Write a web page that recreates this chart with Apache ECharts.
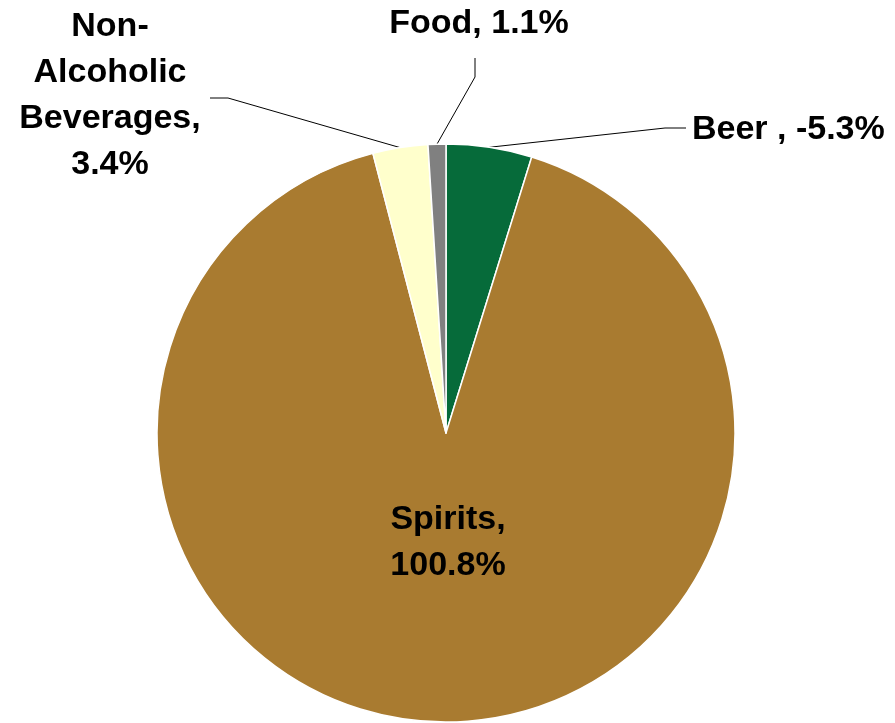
<!DOCTYPE html>
<html>
<head>
<meta charset="utf-8">
<script src="https://cdn.jsdelivr.net/npm/echarts@6/dist/echarts.min.js"></script>
<style>
html,body{margin:0;padding:0;background:#fff;}
#chart{width:895px;height:723px;}
</style>
</head>
<body>
<div id="chart"></div>
<script>
// Data
var categories = ['Beer ', 'Spirits', 'Non-Alcoholic Beverages', 'Food'];
var values = [-5.3, 100.8, 3.4, 1.1];
var labelTexts = ['Beer , -5.3%', 'Spirits,\n100.8%', 'Non-\nAlcoholic\nBeverages,\n3.4%', 'Food, 1.1%'];

// Styles / layout
var colors = ['#066B3A', '#A97B30', '#FFFFCC', '#808080'];
var labelPlacement = [
  {x: 692, y: 130, align: 'left', elbow: [665, 128], end: [686, 128]},
  {x: 448, y: 543, align: 'center'},
  {x: 110, y: 96, align: 'center', elbow: [228, 98], end: [210, 98]},
  {x: 479, y: 24, align: 'center', elbow: [475, 77], end: [475, 58]}
];

var chart = echarts.init(document.getElementById('chart'));
var data = categories.map(function (c, i) {
  var inside = i === 1;
  return {
    name: c,
    value: Math.abs(values[i]),
    itemStyle: {color: colors[i]},
    label: {
      position: inside ? 'inside' : 'outside',
      formatter: labelTexts[i]
    },
    labelLine: {show: !inside}
  };
});

chart.setOption({
  animation: false,
  series: [{
    type: 'pie',
    center: [446, 433],
    radius: 289,
    startAngle: 90,
    clockwise: true,
    avoidLabelOverlap: false,
    itemStyle: {borderColor: '#ffffff', borderWidth: 1.5},
    label: {
      fontFamily: 'Liberation Sans, Arial, sans-serif',
      fontWeight: 'bold',
      fontSize: 34,
      lineHeight: 46,
      color: '#000',
      align: 'center'
    },
    labelLine: {lineStyle: {color: '#000', width: 1}},
    emphasis: {disabled: true},
    labelLayout: function (params) {
      var p = labelPlacement[params.dataIndex];
      var out = {x: p.x, y: p.y, align: p.align, verticalAlign: 'middle'};
      if (p.elbow && params.labelLinePoints) {
        out.labelLinePoints = [params.labelLinePoints[0], p.elbow, p.end];
      }
      return out;
    },
    data: data
  }]
});
</script>
</body>
</html>
